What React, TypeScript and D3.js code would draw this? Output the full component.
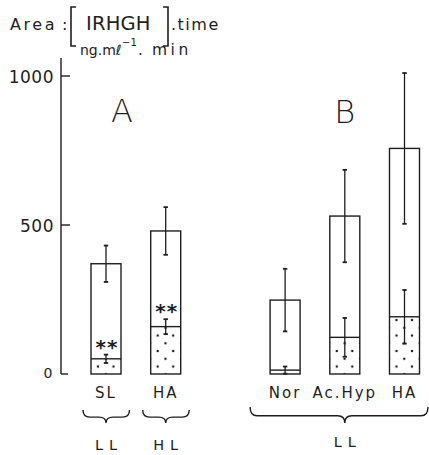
import * as d3 from "d3";

// chart values
const groups = ["A", "B"];
const categories = ["SL", "HA", "Nor", "Ac.Hyp", "HA"];
const categoryGroup = ["A", "A", "B", "B", "B"];
const totalArea = [370, 480, 248, 530, 757];
const totalErr = [61, 80, 105, 155, 253];
const irhghArea = [51, 159, 13, 123, 192];
const irhghErr = [14, 25, 12, 65, 90];
const marks = ["**", "**", "", "", ""];
const braceLabels = ["LL", "HL", "LL"];
const braceSpans = [[0, 0], [1, 1], [2, 4]];
const yTicks = [1000, 500, 0];

const width = 429;
const height = 455;
const ink = "#1e1e1e";
const font = "DejaVu Sans";

export default function App() {
  const y = d3.scaleLinear().domain([0, 1000]).range([374, 76]);

  // one empty slot between the two groups
  const slot = (i: number) => i + groups.indexOf(categoryGroup[i]);
  const x = d3.scalePoint<number>().domain(d3.range(6)).range([106, 404.5]);
  const cx = (i: number) => x(slot(i)) as number;
  const bw = 30;
  const axisX = 61;

  const brace = (x0: number, x1: number, xm: number, y0: number, h: number) => {
    const ym = y0 + h * 0.55;
    const r = 7;
    return `M${x0},${y0} Q${x0},${ym} ${x0 + r},${ym} L${xm - r},${ym} Q${xm},${ym} ${xm},${y0 + h}` +
      ` M${xm},${y0 + h} Q${xm},${ym} ${xm + r},${ym} L${x1 - r},${ym} Q${x1},${ym} ${x1},${y0}`;
  };

  const errBar = (xc: number, v: number, e: number, key: string) => (
    <g key={key} stroke={ink} strokeWidth={1.3}>
      <line x1={xc} x2={xc} y1={y(v + e)} y2={y(Math.max(0, v - e))} />
      <line x1={xc - 2.2} x2={xc + 2.2} y1={y(v + e)} y2={y(v + e)} strokeWidth={1.8} />
      <line x1={xc - 2.2} x2={xc + 2.2} y1={y(Math.max(0, v - e))} y2={y(Math.max(0, v - e))} strokeWidth={1.8} />
    </g>
  );

  return (
    <svg width={width} height={height} style={{ position: "absolute", left: 0, top: 0 }} fontFamily={font}>
      <defs>
        {categories.map((_, i) => (
          <pattern key={i} id={`dots${i}`} patternUnits="userSpaceOnUse" width={15.5} height={15.5}
            x={cx(i) - bw / 2 - 4.6} y={y(0) - 19.1}>
            <circle cx={3.9} cy={3.9} r={1.25} fill={ink} />
            <circle cx={11.6} cy={11.6} r={1.25} fill={ink} />
          </pattern>
        ))}
      </defs>

      {/* title */}
      <g fill={ink}>
        <text x={10} y={30} fontSize={16} letterSpacing={2.6}>Area</text>
        <text x={62} y={30} fontSize={16}>:</text>
        <path d="M76,7 L71,7 L71,46 L76,46" fill="none" stroke={ink} strokeWidth={1.6} />
        <text x={86} y={29.5} fontSize={19.5} letterSpacing={0.2}>IRHGH</text>
        <path d="M163,7 L168,7 L168,46 L163,46" fill="none" stroke={ink} strokeWidth={1.6} />
        <text x={171} y={30} fontSize={16} letterSpacing={1.5}>.time</text>
        <text x={80} y={55} fontSize={14} letterSpacing={0}>ng.mℓ</text>
        <text x={122} y={46} fontSize={10}>−1</text>
        <text x={138} y={55} fontSize={15}>.</text>
        <text x={152} y={55} fontSize={15.5} letterSpacing={3.5}>min</text>
      </g>

      {/* y axis */}
      <g stroke={ink} strokeWidth={1.4}>
        <line x1={axisX} x2={axisX} y1={58} y2={y(0)} />
        {yTicks.map((t) => (
          <line key={t} x1={axisX} x2={t === 0 ? 68 : 70} y1={y(t)} y2={y(t)} />
        ))}
      </g>
      {yTicks.map((t) => (
        <text key={t} x={t === 0 ? 53 : 54} y={t === 0 ? 378 : y(t) + 7} textAnchor="end"
          fontSize={t === 0 ? 14 : 17} fill={ink} letterSpacing={0.5}>{t}</text>
      ))}

      {/* group letters */}
      {groups.map((g) => {
        const idx = categories.map((_, i) => i).filter((i) => categoryGroup[i] === g);
        const xm = g === "A" ? cx(idx[0]) + 16 : cx(idx[1]);
        return (
          <text key={g} x={xm} y={g === "A" ? 122 : 123} textAnchor="middle" fontSize={32}
            fontWeight={200} fill={ink}>{g}</text>
        );
      })}

      {/* bars */}
      {categories.map((c, i) => {
        const x0 = cx(i) - bw / 2;
        return (
          <g key={i}>
            <rect x={x0} y={y(irhghArea[i])} width={bw} height={y(0) - y(irhghArea[i])}
              fill={`url(#dots${i})`} />
            <rect x={x0} y={y(totalArea[i])} width={bw} height={y(0) - y(totalArea[i])}
              fill="none" stroke={ink} strokeWidth={1.4} />
            <line x1={x0} x2={x0 + bw} y1={y(irhghArea[i])} y2={y(irhghArea[i])} stroke={ink} strokeWidth={1.4} />
            {errBar(cx(i), totalArea[i], totalErr[i], "t")}
            {errBar(cx(i), irhghArea[i], irhghErr[i], "s")}
            {marks[i] && (
              <text x={cx(i) + 1} y={y(irhghArea[i] + irhghErr[i]) - 1} textAnchor="middle"
                fontSize={20} fontWeight="bold" fill={ink} letterSpacing={1}>{marks[i]}</text>
            )}
            <text x={cx(i)} y={398} textAnchor="middle" fontSize={15} letterSpacing={2} fill={ink}>{c}</text>
          </g>
        );
      })}

      {/* braces */}
      {braceSpans.map(([a, b], k) => {
        const multi = b > a;
        const x0 = cx(a) - 23 - (multi ? 12 : 0);
        const x1 = cx(b) + 23.5;
        const xm = cx(Math.floor((a + b) / 2));
        return (
          <g key={k}>
            <path d={brace(x0, x1, xm, multi ? 407 : 410, multi ? 16 : 13)} fill="none" stroke={ink} strokeWidth={1.4} />
            <text x={xm} y={multi ? 447 : 450} textAnchor="middle" fontSize={14.5} letterSpacing={6} fill={ink}
              dx={3}>{braceLabels[k]}</text>
          </g>
        );
      })}
    </svg>
  );
}
